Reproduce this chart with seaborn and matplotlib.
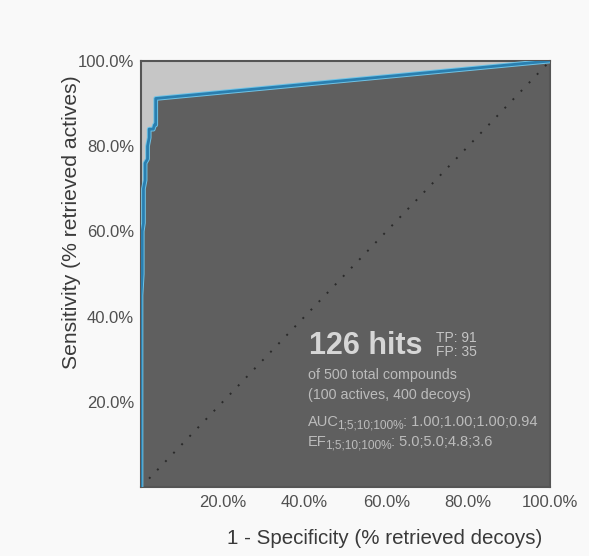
import numpy as np
import pandas as pd
import matplotlib
matplotlib.use("Agg")
import matplotlib.pyplot as plt
import seaborn as sns

# ROC curve points (fraction of decoys, fraction of actives)
fpr = [0.000, 0.000, 0.003, 0.003, 0.006, 0.006, 0.010, 0.010, 0.016, 0.016, 0.020, 0.020, 0.030, 0.033, 0.036, 0.036, 1.000]
tpr = [0.000, 0.450, 0.500, 0.600, 0.620, 0.700, 0.720, 0.760, 0.770, 0.800, 0.820, 0.840, 0.840, 0.850, 0.850, 0.912, 1.000]

x_ticks = [0.2, 0.4, 0.6, 0.8, 1.0]
y_ticks = [0.2, 0.4, 0.6, 0.8, 1.0]
tick_labels = ["20.0%", "40.0%", "60.0%", "80.0%", "100.0%"]

hits = 126
tp, fp = 91, 35
total, actives, decoys = 500, 100, 400
sub_label = "1;5;10;100%"
auc_vals = "1.00;1.00;1.00;0.94"
ef_vals = "5.0;5.0;4.8;3.6"

sns.set_theme(style="white")
plt.rcParams["font.family"] = ["Liberation Sans", "DejaVu Sans"]

fig = plt.figure(figsize=(5.89, 5.56), dpi=100, facecolor="#f9f9f9")
ax = fig.add_axes([141/589, 1 - 487/556, (550 - 141)/589, (487 - 61)/556])
ax.set_facecolor("#c6c6c6")

df = pd.DataFrame({"fpr": fpr, "tpr": tpr})
ax.fill_between(df["fpr"], 0, df["tpr"], color="#5f5f5f", lw=0, zorder=1)
ax.plot([0, 1], [0, 1], linestyle=(0, (1, 5)), color="#2a2a2a", lw=1.4, zorder=2)
sns.lineplot(data=df, x="fpr", y="tpr", sort=False, estimator=None,
             color="#6fc3e6", lw=3.4, ax=ax, zorder=3)
sns.lineplot(data=df, x="fpr", y="tpr", sort=False, estimator=None,
             color="#2a7fb0", lw=2.0, ax=ax, zorder=4)

ax.set_xlim(0, 1)
ax.set_ylim(0, 1)
ax.set_xticks(x_ticks)
ax.set_yticks(y_ticks)
ax.set_xticklabels(tick_labels)
ax.set_yticklabels(tick_labels)
ax.tick_params(direction="in", length=4, width=1.2, color="#333333",
               labelsize=12, labelcolor="#505050", pad=6)
ax.tick_params(axis="y", pad=5)
ax.set_xlabel("")
ax.set_ylabel("")
for s in ax.spines.values():
    s.set_color("#555555")
    s.set_linewidth(1.5)

# annotation block
def fx(px):
    return px / 589
def fy(py):
    return 1 - py / 556

fig.text(fx(309), fy(346), f"{hits} hits", fontsize=22, fontweight="bold",
         color="#d6d6d6", va="center", ha="left")
fig.text(fx(436), fy(338), f"TP: {tp}", fontsize=10, color="#c4c4c4", va="center")
fig.text(fx(436), fy(352), f"FP: {fp}", fontsize=10, color="#c4c4c4", va="center")
fig.text(fx(308), fy(375), f"of {total} total compounds", fontsize=10.3,
         color="#bcbcbc", va="center")
fig.text(fx(308), fy(395), f"({actives} actives, {decoys} decoys)", fontsize=10.3,
         color="#bcbcbc", va="center")

renderer = fig.canvas.get_renderer()
tcol = "#bcbcbc"
for name, vals, ypx in [("AUC", auc_vals, 422), ("EF", ef_vals, 442)]:
    t1 = fig.text(fx(308), fy(ypx + 4), name, fontsize=10.5, color=tcol, va="baseline")
    w1 = t1.get_window_extent(renderer).width - 1.5
    t2 = fig.text(fx(308 + w1), fy(ypx + 4 + 3), sub_label, fontsize=8.6,
                  color=tcol, va="baseline")
    w2 = t2.get_window_extent(renderer).width - 1
    fig.text(fx(308 + w1 + w2), fy(ypx + 4), ": " + vals, fontsize=10.5,
             color=tcol, va="baseline")

fig.text(fx(385), fy(539), "1 - Specificity (% retrieved decoys)", fontsize=14.8,
         color="#3a3a3a", ha="center", va="center")
fig.text(fx(72), fy(222), "Sensitivity (% retrieved actives)", fontsize=15.2,
         color="#3a3a3a", ha="center", va="center", rotation=90)

fig.savefig("out.png", dpi=100, facecolor=fig.get_facecolor())
